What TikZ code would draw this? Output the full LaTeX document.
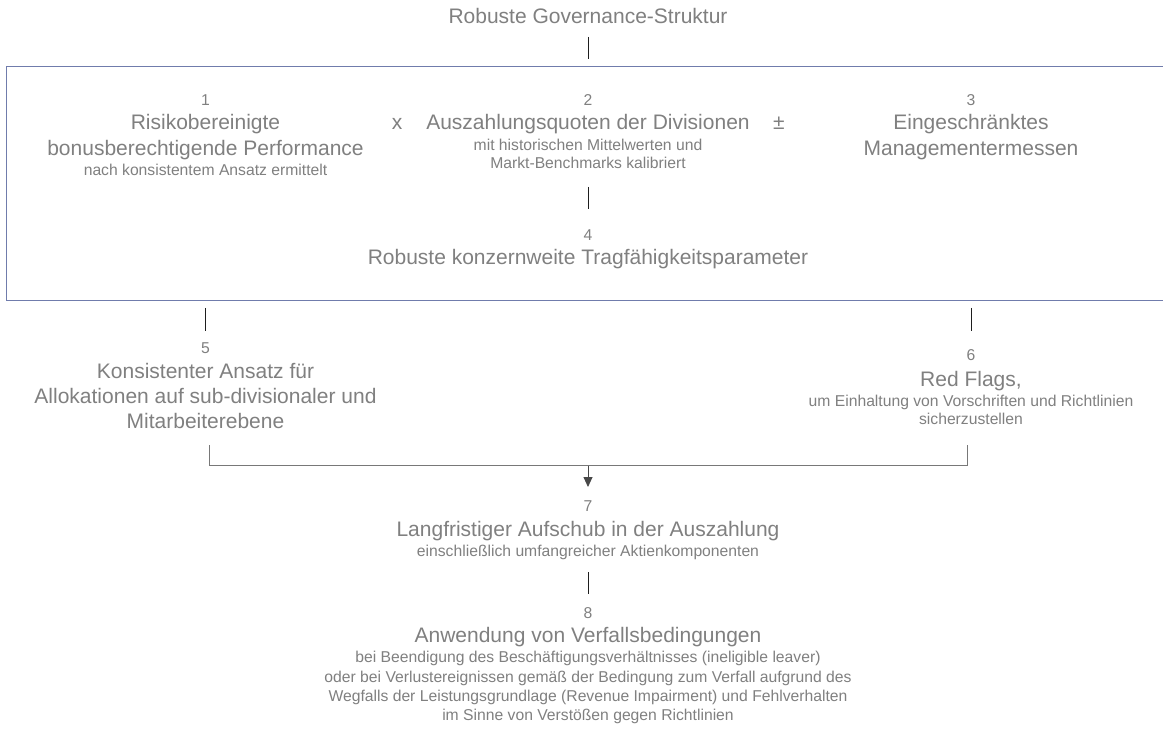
\documentclass[tikz,border=0pt]{standalone}
\usepackage{fontspec}
\setmainfont{Liberation Sans}
\usetikzlibrary{arrows.meta}
\definecolor{txt}{RGB}{128,128,128}
\definecolor{boxc}{RGB}{112,124,172}
\definecolor{connc}{RGB}{30,30,30}
\definecolor{brk}{RGB}{120,120,120}
\begin{document}
\begin{tikzpicture}[x=1pt,y=-1pt,
  big/.style={font=\fontsize{21}{25}\selectfont, text=txt, inner sep=0pt, anchor=base},
  sml/.style={font=\fontsize{15.7}{19}\selectfont, text=txt, inner sep=0pt, anchor=base},
  conn/.style={draw=connc, line width=0.9pt},
  brack/.style={draw=brk, line width=0.9pt},
  frame/.style={draw=boxc, line width=1pt}]
\useasboundingbox (0,0) rectangle (1163,738);
\fill[white] (0,0) rectangle (1163,738);

% title
\node[big] (title) at (588,24) {Robuste Governance-Struktur};
\coordinate (c0a) at (588,37);
\coordinate (c0b) at (588,59);
\draw[conn] (c0a) -- (c0b);

% frame (open to the right edge)
\coordinate (fr1) at (1164,66.7);
\coordinate (fr2) at (6,66.7);
\coordinate (fr3) at (6,300.5);
\coordinate (fr4) at (1164,300.5);
\draw[frame] (fr1) -- (fr2) -- (fr3) -- (fr4);

% node 1
\node[sml] (n1num) at (205.5,106) {1};
\node[big] (n1a) at (205.5,130) {Risikobereinigte};
\node[big] (n1b) at (205.5,155.5) {bonusberechtigende Performance};
\node[sml] (n1c) at (205.5,175.6) {nach konsistentem Ansatz ermittelt};

\node[big] (op1) at (397,130) {x};

% node 2
\node[sml] (n2num) at (588,106) {2};
\node[big] (n2a) at (588,130) {Auszahlungsquoten der Divisionen};
\node[sml] (n2b) at (588,150.2) {mit historischen Mittelwerten und};
\node[sml] (n2c) at (588,168.4) {Markt-Benchmarks kalibriert};

\node[big] (op2) at (779,130) {±};

% node 3
\node[sml] (n3num) at (971,106) {3};
\node[big] (n3a) at (971,130) {Eingeschränktes};
\node[big] (n3b) at (971,155.5) {Managementermessen};

\coordinate (c1a) at (588,187);
\coordinate (c1b) at (588,209);
\draw[conn] (c1a) -- (c1b);

% node 4
\node[sml] (n4num) at (588,240.8) {4};
\node[big] (n4a) at (588,265) {Robuste konzernweite Tragfähigkeitsparameter};

% connectors below frame
\coordinate (c5a) at (205,308);
\coordinate (c5b) at (205,331);
\draw[conn] (c5a) -- (c5b);
\coordinate (c6a) at (971,308);
\coordinate (c6b) at (971,331);
\draw[conn] (c6a) -- (c6b);

% node 5
\node[sml] (n5num) at (205.5,353.5) {5};
\node[big] (n5a) at (205.5,378.4) {Konsistenter Ansatz für};
\node[big] (n5b) at (205.5,403.2) {Allokationen auf sub-divisionaler und};
\node[big] (n5c) at (205.5,428) {Mitarbeiterebene};

% node 6
\node[sml] (n6num) at (971,360.6) {6};
\node[big] (n6a) at (971,386.6) {Red Flags,};
\node[sml] (n6b) at (971,406.6) {um Einhaltung von Vorschriften und Richtlinien};
\node[sml] (n6c) at (971,424.8) {sicherzustellen};

% bracket and arrow
\coordinate (b1) at (209,445);
\coordinate (b2) at (209,465.5);
\coordinate (b3) at (967,465.5);
\coordinate (b4) at (967,445);
\coordinate (bm) at (588,465.5);
\coordinate (ar) at (588,487);
\draw[brack] (b1) -- (b2) -- (b3) -- (b4);
\draw[brack, -{Triangle[width=9pt,length=10pt]}, color=brk!60!black] (bm) -- (ar);

% node 7
\node[sml] (n7num) at (588,511.7) {7};
\node[big] (n7a) at (588,536.6) {Langfristiger Aufschub in der Auszahlung};
\node[sml] (n7b) at (588,556.8) {einschließlich umfangreicher Aktienkomponenten};

\coordinate (c7a) at (588,572);
\coordinate (c7b) at (588,594);
\draw[conn] (c7a) -- (c7b);

% node 8
\node[sml] (n8num) at (588,618.3) {8};
\node[big] (n8a) at (588,642.3) {Anwendung von Verfallsbedingungen};
\node[sml] (n8b) at (588,662.7) {bei Beendigung des Beschäftigungsverhältnisses (ineligible leaver)};
\node[sml] (n8c) at (588,682) {oder bei Verlustereignissen gemäß der Bedingung zum Verfall aufgrund des};
\node[sml] (n8d) at (588,701.3) {Wegfalls der Leistungsgrundlage (Revenue Impairment) und Fehlverhalten};
\node[sml] (n8e) at (588,720.6) {im Sinne von Verstößen gegen Richtlinien};
\end{tikzpicture}
\end{document}
